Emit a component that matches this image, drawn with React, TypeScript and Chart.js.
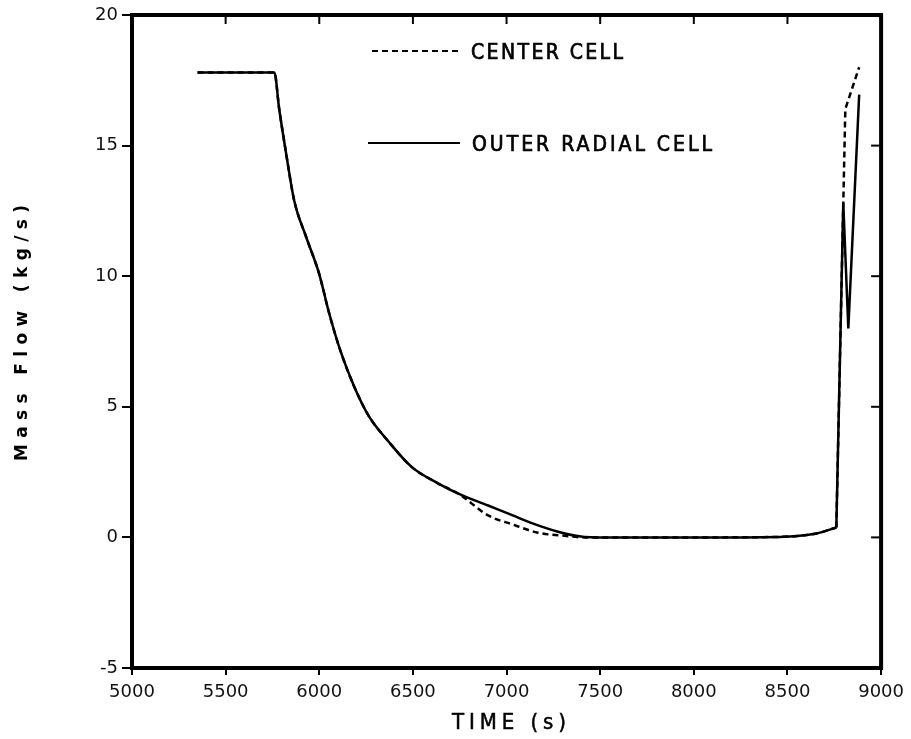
import React, { useEffect, useRef } from "react";
import { Chart, registerables } from "chart.js";

Chart.register(...registerables);

const xTickValues = [5000, 5500, 6000, 6500, 7000, 7500, 8000, 8500, 9000];
const yTickValues = [-5, 0, 5, 10, 15, 20];

const outerTime = [5350, 5760, 5786, 5823, 5866, 5930, 5999, 6052, 6115, 6185, 6264, 6371, 6493, 6636, 6742, 6902, 7030, 7168, 7311, 7417, 7600, 8000, 8458, 8655, 8761, 8798, 8825, 8883];
const outerFlow = [17.8, 17.8, 16.4, 14.7, 12.9, 11.5, 10.1, 8.6, 7.1, 5.8, 4.65, 3.66, 2.7, 2.06, 1.68, 1.22, 0.85, 0.46, 0.15, 0.02, 0.0, 0.0, 0.02, 0.15, 0.38, 12.8, 8.0, 16.95];

const centerTime = [5350, 5760, 5786, 5823, 5866, 5930, 5999, 6052, 6115, 6185, 6264, 6371, 6493, 6636, 6742, 6902, 7030, 7168, 7311, 7420, 7600, 8000, 8458, 8655, 8761, 8809, 8883];
const centerFlow = [17.8, 17.8, 16.4, 14.7, 12.9, 11.5, 10.1, 8.6, 7.1, 5.8, 4.65, 3.66, 2.7, 2.06, 1.68, 0.84, 0.5, 0.18, 0.06, 0.0, 0.0, 0.0, 0.02, 0.15, 0.38, 16.4, 18.0];

// time at which the smooth decay ends and the sharp reflood spike begins
const spikeStart = 8761;

const seriesNames = ["CENTER CELL", "OUTER RADIAL CELL"];
const xTitle = "TIME (s)";
const yTitle = "Mass Flow (kg/s)";

function drawSpaced(ctx: CanvasRenderingContext2D, text: string, x: number, y: number, target: number, stroke = 0) {
  (ctx as any).letterSpacing = "0px";
  const w = ctx.measureText(text).width;
  const ls = (target - w) / Math.max(1, text.length - 1);
  (ctx as any).letterSpacing = ls + "px";
  ctx.textAlign = "left";
  ctx.fillText(text, x, y);
  if (stroke > 0) {
    ctx.lineWidth = stroke;
    ctx.strokeText(text, x, y);
  }
  (ctx as any).letterSpacing = "0px";
}

const decorPlugin = {
  id: "decor",
  afterDraw(chart: any) {
    const ctx: CanvasRenderingContext2D = chart.ctx;
    const { left, right, top, bottom } = chart.chartArea;
    const xs = chart.scales.x;
    const ys = chart.scales.y;
    ctx.save();
    ctx.strokeStyle = "#000";
    ctx.fillStyle = "#000";
    ctx.lineWidth = 4;
    ctx.strokeRect(left, top, right - left, bottom - top);
    ctx.lineWidth = 2;
    xTickValues.forEach((v) => {
      const px = xs.getPixelForValue(v);
      ctx.beginPath();
      ctx.moveTo(px, top);
      ctx.lineTo(px, top + 9);
      ctx.stroke();
    });
    yTickValues.forEach((v) => {
      const py = ys.getPixelForValue(v);
      ctx.beginPath();
      ctx.moveTo(right, py);
      ctx.lineTo(right - 10, py);
      ctx.stroke();
    });
    // legend
    ctx.lineWidth = 2;
    ctx.setLineDash([6, 4]);
    ctx.beginPath();
    ctx.moveTo(372, 51);
    ctx.lineTo(462, 51);
    ctx.stroke();
    ctx.setLineDash([]);
    ctx.beginPath();
    ctx.moveTo(368, 143);
    ctx.lineTo(460, 143);
    ctx.stroke();
    ctx.font = '21px "DejaVu Sans Condensed", "Liberation Sans Narrow", "Liberation Sans", sans-serif';
    ctx.textBaseline = "alphabetic";
    drawSpaced(ctx, seriesNames[0], 471, 58.5, 152, 0.7);
    drawSpaced(ctx, seriesNames[1], 472, 151, 240, 0.7);
    // x title
    ctx.font = '22px "DejaVu Sans Condensed", "Liberation Sans", sans-serif';
    drawSpaced(ctx, xTitle, 452, 729, 114, 0.5);
    // y title
    ctx.save();
    ctx.translate(27, 333);
    ctx.rotate(-Math.PI / 2);
    ctx.font = 'bold 17px "DejaVu Sans", sans-serif';
    drawSpaced(ctx, yTitle, -128, 0, 256);
    ctx.restore();
    ctx.restore();
  },
};

function pts(xs: number[], ys: number[], smooth: boolean) {
  const out: { x: number; y: number }[] = [];
  xs.forEach((t, i) => {
    if (smooth ? t <= spikeStart : t >= spikeStart) out.push({ x: t, y: ys[i] });
  });
  return out;
}

export default function App() {
  const ref = useRef<HTMLCanvasElement | null>(null);
  useEffect(() => {
    if (!ref.current) return;
    const base = { borderColor: "#000", borderWidth: 2.5, pointRadius: 0, fill: false };
    const chart = new Chart(ref.current, {
      type: "line",
      data: {
        datasets: [
          { ...base, label: seriesNames[0], data: pts(centerTime, centerFlow, true), borderDash: [6, 4], cubicInterpolationMode: "monotone" },
          { ...base, label: seriesNames[0] + " spike", data: pts(centerTime, centerFlow, false), borderDash: [6, 4], tension: 0 },
          { ...base, label: seriesNames[1], data: pts(outerTime, outerFlow, true), cubicInterpolationMode: "monotone" },
          { ...base, label: seriesNames[1] + " spike", data: pts(outerTime, outerFlow, false), tension: 0 },
        ] as any,
      },
      options: {
        animation: false,
        responsive: true,
        maintainAspectRatio: false,
        layout: { padding: { left: 0, right: 26, top: 15, bottom: 0 } },
        plugins: { legend: { display: false }, tooltip: { enabled: false } },
        scales: {
          x: {
            type: "linear",
            min: 5000,
            max: 9000,
            afterBuildTicks: (s: any) => {
              s.ticks = xTickValues.map((v) => ({ value: v }));
            },
            afterFit: (s: any) => {
              s.height = 71;
            },
            ticks: {
              color: "#111",
              font: { family: '"DejaVu Sans", sans-serif', size: 18 },
              padding: 7,
              maxRotation: 0,
              autoSkip: false,
              callback: (v: any) => String(v),
            },
            grid: { drawOnChartArea: false, color: "#000", lineWidth: 2, tickLength: 7 },
            border: { display: false },
          },
          y: {
            type: "linear",
            min: -5,
            max: 20,
            afterBuildTicks: (s: any) => {
              s.ticks = yTickValues.map((v) => ({ value: v }));
            },
            afterFit: (s: any) => {
              s.width = 132;
            },
            ticks: {
              color: "#111",
              font: { family: '"DejaVu Sans", sans-serif', size: 18 },
              padding: 4,
              autoSkip: false,
              callback: (v: any) => String(v),
            },
            grid: { drawOnChartArea: false, color: "#000", lineWidth: 2, tickLength: 10 },
            border: { display: false },
          },
        },
      },
      plugins: [decorPlugin],
    });
    return () => chart.destroy();
  }, []);
  return (
    <div style={{ position: "absolute", left: 0, top: 0, width: 911, height: 739, background: "#fff" }}>
      <canvas ref={ref} />
    </div>
  );
}
